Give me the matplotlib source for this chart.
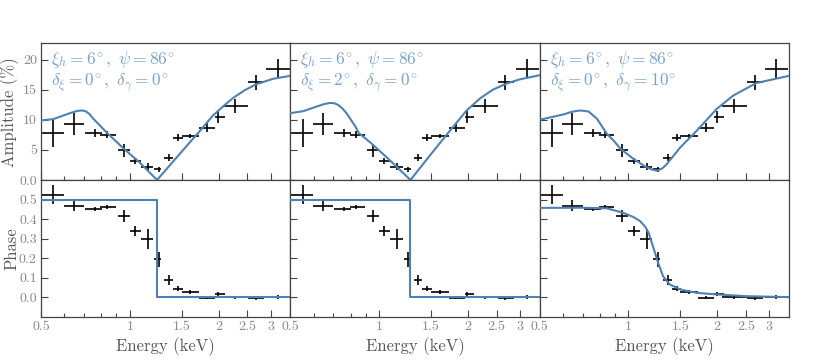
import matplotlib
matplotlib.use("Agg")
import matplotlib.pyplot as plt
from matplotlib.ticker import FixedLocator, NullFormatter
import numpy as np

plt.rcParams['font.family'] = 'serif'
plt.rcParams['font.serif'] = ['cmr10']
plt.rcParams['mathtext.fontset'] = 'cm'
plt.rcParams['axes.formatter.use_mathtext'] = True

# measured data (same in every column)
energy = [0.550, 0.646, 0.761, 0.834, 0.954, 1.04, 1.153, 1.256, 1.358, 1.456,
          1.604, 1.826, 1.99, 2.28, 2.68, 3.17]
e_lo = [0.50, 0.597, 0.705, 0.795, 0.91, 1.00, 1.09, 1.21, 1.31, 1.40,
        1.50, 1.72, 1.95, 2.07, 2.52, 2.90]
e_hi = [0.598, 0.700, 0.805, 0.895, 1.00, 1.09, 1.20, 1.28, 1.40, 1.51,
        1.72, 1.95, 2.10, 2.52, 2.86, 3.48]
amp = [7.8, 9.3, 7.8, 7.55, 4.9, 3.1, 2.2, 1.8, 3.7, 7.0, 7.3, 8.7, 10.4, 12.3, 16.2, 18.5]
amp_err = [2.4, 1.8, 0.7, 0.6, 1.0, 0.5, 0.6, 0.4, 0.6, 0.6, 0.4, 0.8, 1.0, 1.2, 1.3, 1.6]
phase = [0.525, 0.469, 0.452, 0.461, 0.415, 0.338, 0.299, 0.193, 0.087, 0.044,
         0.026, -0.002, 0.014, 0.0, -0.005, 0.0]
phase_err = [0.05, 0.026, 0.012, 0.012, 0.03, 0.024, 0.05, 0.04, 0.024, 0.015,
             0.01, 0.008, 0.01, 0.008, 0.01, 0.01]

# model curves
m1_amp_e = [0.50, 0.55, 0.61, 0.645, 0.67, 0.69, 0.71, 0.73, 0.751, 0.792, 0.834, 0.954, 1.08, 1.237,
            1.401, 1.555, 1.725, 1.913, 2.069, 2.236, 2.449, 2.683, 3.053, 3.5]
m1_amp = [9.9, 10.1, 10.9, 11.3, 11.5, 11.55, 11.4, 10.95, 10.2, 9.05, 7.9, 5.2, 2.9, 0.0,
          3.05, 5.6, 8.1, 10.7, 12.2, 13.6, 14.9, 15.9, 16.8, 17.3]
m1_ph_e = [0.5, 1.237, 1.237, 3.5]
m1_ph = [0.5, 0.5, 0.0, 0.0]

m2_amp_e = [0.50, 0.553, 0.614, 0.65, 0.681, 0.705, 0.727, 0.75, 0.775, 0.828, 0.854, 0.930, 1.059, 1.277,
            1.484, 1.735, 1.975, 2.191, 2.43, 2.697, 2.99, 3.5]
m2_amp = [11.1, 11.43, 12.2, 12.6, 12.8, 12.75, 12.45, 11.9, 11.1, 9.0, 7.78, 6.3, 3.8, 0.0,
          4.04, 8.15, 11.5, 13.5, 15.0, 16.0, 16.7, 17.4]
m2_ph_e = [0.5, 1.277, 1.277, 3.5]
m2_ph = [0.5, 0.5, 0.0, 0.0]

m3_amp_e = [0.50, 0.603, 0.643, 0.687, 0.732, 0.782, 0.845, 0.890, 0.94, 1.04, 1.14, 1.20, 1.248,
            1.30, 1.35, 1.50, 1.705, 1.99, 2.27, 2.71, 3.5]
m3_amp = [10.0, 10.9, 11.33, 11.55, 11.38, 10.17, 7.67, 6.55, 5.17, 3.5, 2.22, 1.75, 1.55,
          1.9, 2.67, 5.44, 8.2, 11.8, 14.05, 16.1, 17.3]
m3_ph_e = [0.5, 0.687, 0.845, 0.96, 1.04, 1.096, 1.14, 1.17, 1.22, 1.26, 1.31, 1.38,
           1.50, 1.705, 1.99, 2.51, 3.5]
m3_ph = [0.457, 0.458, 0.455, 0.432, 0.41, 0.389, 0.36, 0.33, 0.244, 0.176, 0.107, 0.065,
         0.039, 0.022, 0.014, 0.005, 0.0]

labels = [
    (r'$\xi_h = 6^{\!\circ},\ \psi = 86^{\!\circ}$', r'$\delta_\xi = 0^{\!\circ},\ \delta_\gamma = 0^{\!\circ}$'),
    (r'$\xi_h = 6^{\!\circ},\ \psi = 86^{\!\circ}$', r'$\delta_\xi = 2^{\!\circ},\ \delta_\gamma = 0^{\!\circ}$'),
    (r'$\xi_h = 6^{\!\circ},\ \psi = 86^{\!\circ}$', r'$\delta_\xi = 0^{\!\circ},\ \delta_\gamma = 10^{\!\circ}$'),
]
models = [(m1_amp_e, m1_amp, m1_ph_e, m1_ph),
          (m2_amp_e, m2_amp, m2_ph_e, m2_ph),
          (m3_amp_e, m3_amp, m3_ph_e, m3_ph)]

x_ticks = [0.5, 1, 1.5, 2, 2.5, 3]
x_ticklabels = ['0.5', '1', '1.5', '2', '2.5', '3']
x_minor = [0.6, 0.7, 0.8, 0.9]
amp_ticks = [0, 5, 10, 15, 20]
amp_ticklabels = ['0.0', '5', '10', '15', '20']
ph_ticks = [0.0, 0.1, 0.2, 0.3, 0.4, 0.5]
ph_ticklabels = ['0.0', '0.1', '0.2', '0.3', '0.4', '0.5']

line_col = '#4f81b3'
text_col = '#7ca1c9'
spine_col = '#444444'
tick_col = '#888888'

fig, axes = plt.subplots(2, 3, figsize=(8.3, 3.63), dpi=100)
fig.subplots_adjust(left=0.0494, right=0.9506, top=0.8807, bottom=0.1276,
                    wspace=0, hspace=0)

xerr = [np.array(energy) - np.array(e_lo), np.array(e_hi) - np.array(energy)]

for j in range(3):
    ax_a = axes[0, j]
    ax_p = axes[1, j]
    ea, ma, ep, mp = models[j]

    ax_a.errorbar(energy, amp, xerr=xerr, yerr=amp_err, fmt='none',
                  ecolor='black', elinewidth=1.2, capsize=0, zorder=2)
    ax_a.plot(ea, ma, color=line_col, lw=1.5, zorder=3)
    ax_p.errorbar(energy, phase, xerr=xerr, yerr=phase_err, fmt='none',
                  ecolor='black', elinewidth=1.2, capsize=0, zorder=2)
    ax_p.plot(ep, mp, color=line_col, lw=1.5, zorder=3)

    ax_a.text(0.04, 0.885, labels[j][0], transform=ax_a.transAxes,
              color=text_col, fontsize=12.5, va='center', ha='left')
    ax_a.text(0.04, 0.715, labels[j][1], transform=ax_a.transAxes,
              color=text_col, fontsize=12.5, va='center', ha='left')

    for ax in (ax_a, ax_p):
        ax.set_xscale('log')
        ax.set_xlim(0.5, 3.5)
        ax.xaxis.set_major_locator(FixedLocator(x_ticks))
        ax.xaxis.set_minor_locator(FixedLocator(x_minor))
        ax.xaxis.set_minor_formatter(NullFormatter())
        ax.tick_params(which='both', direction='in', top=False, right=False,
                       colors=spine_col, labelcolor=tick_col, labelsize=10, pad=3)
        ax.tick_params(which='major', length=5, width=0.8)
        ax.tick_params(which='minor', length=3, width=0.8)
        for s in ax.spines.values():
            s.set_color(spine_col)
            s.set_linewidth(0.9)

    ax_a.set_xticks(x_ticks)
    ax_a.set_xticklabels([])
    ax_a.set_ylim(0, 22.7)
    ax_a.set_yticks(amp_ticks)
    ax_p.set_xticks(x_ticks)
    ax_p.set_xticklabels(x_ticklabels)
    ax_p.set_ylim(-0.1, 0.6)
    ax_p.set_yticks(ph_ticks)
    ax_p.set_xlabel('Energy (keV)', fontsize=12, color='#555555', labelpad=3)

    if j == 0:
        ax_a.set_yticklabels(amp_ticklabels)
        ax_p.set_yticklabels(ph_ticklabels)
        ax_a.set_ylabel('Amplitude (%)', fontsize=12, color='#555555')
        ax_p.set_ylabel('Phase', fontsize=12, color='#555555')
        ax_a.yaxis.set_label_coords(-0.088, 0.5)
        ax_p.yaxis.set_label_coords(-0.088, 0.5)
    else:
        ax_a.set_yticklabels([])
        ax_p.set_yticklabels([])

fig.savefig('out.png', dpi=100)
